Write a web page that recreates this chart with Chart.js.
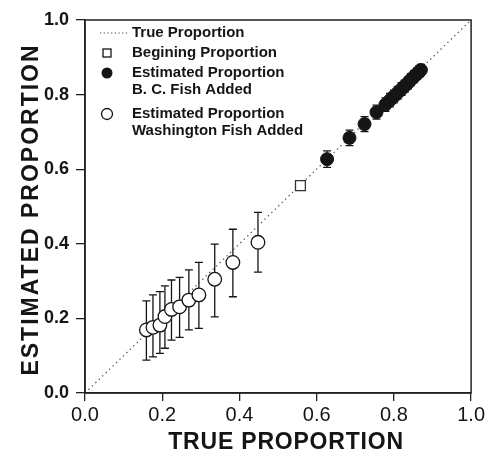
<!DOCTYPE html>
<html>
<head>
<meta charset="utf-8">
<script src="https://cdn.jsdelivr.net/npm/chart.js@4/dist/chart.umd.min.js"></script>
<style>
  body { margin: 0; background: #fff; }
  canvas { display: block; }
</style>
</head>
<body>
<canvas id="myChart" width="487" height="457"></canvas>
<script>
// values
var lineX = [0, 1]
var lineY = [0, 1]

var beginX = [0.558]
var beginY = [0.556]

var bcX = [0.627, 0.685, 0.724, 0.755, 0.778, 0.790, 0.800, 0.810, 0.820, 0.828, 0.836, 0.844, 0.852, 0.860, 0.866, 0.870]
var bcY = [0.627, 0.684, 0.721, 0.753, 0.773, 0.785, 0.795, 0.805, 0.815, 0.823, 0.831, 0.840, 0.848, 0.856, 0.862, 0.866]
var bcErr = [0.022, 0.021, 0.020, 0.019, 0.018, 0.018, 0.017, 0.017, 0.017, 0.016, 0.016, 0.016, 0.016, 0.015, 0.015, 0.015]

var waX = [0.159, 0.176, 0.194, 0.207, 0.224, 0.245, 0.269, 0.295, 0.336, 0.383, 0.448]
var waY = [0.169, 0.176, 0.182, 0.205, 0.224, 0.231, 0.249, 0.263, 0.305, 0.350, 0.404]
var waHigh = [0.247, 0.263, 0.272, 0.287, 0.303, 0.310, 0.330, 0.350, 0.399, 0.439, 0.484]
var waLow = [0.088, 0.097, 0.106, 0.120, 0.142, 0.149, 0.169, 0.173, 0.204, 0.258, 0.324]

var tickValues = [0, 0.2, 0.4, 0.6, 0.8, 1.0]
var xTitle = 'TRUE PROPORTION'
var yTitle = 'ESTIMATED PROPORTION'
var legendLabels = [['True Proportion'], ['Begining Proportion'], ['Estimated Proportion', 'B. C. Fish Added'], ['Estimated Proportion', 'Washington Fish Added']]

function pts(xs, ys) {
    var out = []
    for (var i = 0; i < xs.length; i++) out.push({x: xs[i], y: ys[i]})
    return out
}

var FONT = '"Liberation Sans", Arial, sans-serif'
var INK = '#151515'

// error bars, drawn under the markers
var errorBars = {
    id: 'errorBars',
    beforeDatasetsDraw: function(chart) {
        var ctx = chart.ctx
        var xs = chart.scales.x, ys = chart.scales.y
        ctx.save()
        ctx.strokeStyle = INK
        ctx.lineWidth = 1.3
        function bar(x, lo, hi, cap) {
            var px = xs.getPixelForValue(x)
            var a = ys.getPixelForValue(lo), b = ys.getPixelForValue(hi)
            ctx.beginPath()
            ctx.moveTo(px, a); ctx.lineTo(px, b)
            ctx.moveTo(px - cap, a); ctx.lineTo(px + cap, a)
            ctx.moveTo(px - cap, b); ctx.lineTo(px + cap, b)
            ctx.stroke()
        }
        for (var i = 0; i < bcX.length; i++) bar(bcX[i], bcY[i] - bcErr[i], bcY[i] + bcErr[i], 4)
        for (var j = 0; j < waX.length; j++) bar(waX[j], waLow[j], waHigh[j], 4)
        ctx.restore()
    }
}

// box round the plot, axis titles (letter spaced) and the legend inside the plot
var frameLegend = {
    id: 'frameLegend',
    afterDraw: function(chart) {
        var ctx = chart.ctx
        var a = chart.chartArea
        ctx.save()
        ctx.strokeStyle = '#222'
        ctx.lineWidth = 1.5
        ctx.strokeRect(a.left, a.top, a.right - a.left, a.bottom - a.top)

        // axis titles
        ctx.fillStyle = INK
        ctx.textAlign = 'center'
        ctx.textBaseline = 'middle'
        ctx.font = 'bold 23px ' + FONT
        ctx.letterSpacing = '0.8px'
        ctx.fillText(xTitle, (a.left + a.right) / 2 + 8, 443)
        ctx.save()
        ctx.translate(32, (a.top + a.bottom) / 2 + 3)
        ctx.rotate(-Math.PI / 2)
        ctx.letterSpacing = '2px'
        ctx.fillText(yTitle, 0, 0)
        ctx.restore()
        ctx.letterSpacing = '0px'

        var sx = 107, tx = 132
        var rows = [33, 53, 73, 114]
        ctx.font = 'bold 15px ' + FONT
        ctx.textAlign = 'left'
        for (var i = 0; i < legendLabels.length; i++) {
            for (var k = 0; k < legendLabels[i].length; k++) {
                ctx.fillText(legendLabels[i][k], tx, rows[i] + k * 17)
            }
        }
        // symbols
        ctx.setLineDash([1.2, 2.5])
        ctx.strokeStyle = '#444'
        ctx.lineWidth = 1.2
        ctx.beginPath(); ctx.moveTo(100, rows[0]); ctx.lineTo(128, rows[0]); ctx.stroke()
        ctx.setLineDash([])
        ctx.strokeStyle = INK
        ctx.lineWidth = 1.3
        ctx.strokeRect(sx - 4, rows[1] - 4, 8, 8)
        ctx.beginPath(); ctx.arc(sx, rows[2], 5.5, 0, Math.PI * 2); ctx.fill()
        ctx.beginPath(); ctx.arc(sx, rows[3], 5.5, 0, Math.PI * 2); ctx.stroke()
        ctx.restore()
    }
}

var ctx = document.getElementById('myChart').getContext('2d')
var chart = new Chart(ctx, {
    type: 'scatter',
    data: {
        datasets: [{
            label: 'Estimated Proportion Washington Fish Added',
            data: pts(waX, waY),
            pointStyle: 'circle',
            pointRadius: 6.8,
            backgroundColor: '#fff',
            borderColor: INK,
            borderWidth: 1.3,
            order: 1
        }, {
            label: 'Estimated Proportion B. C. Fish Added',
            data: pts(bcX, bcY),
            pointStyle: 'circle',
            pointRadius: 6.5,
            backgroundColor: INK,
            borderColor: INK,
            borderWidth: 1,
            order: 2
        }, {
            label: 'Begining Proportion',
            data: pts(beginX, beginY),
            pointStyle: 'rect',
            pointRadius: 7,
            backgroundColor: '#fff',
            borderColor: '#333',
            borderWidth: 1.3,
            order: 3
        }, {
            label: 'True Proportion',
            type: 'line',
            data: pts(lineX, lineY),
            borderColor: '#555',
            borderWidth: 1.3,
            borderDash: [1.3, 3.5],
            pointRadius: 0,
            fill: false,
            order: 4
        }]
    },
    options: {
        responsive: false,
        animation: false,
        events: [],
        layout: { padding: { top: 20, right: 15, left: 0, bottom: 0 } },
        plugins: {
            legend: { display: false },
            tooltip: { enabled: false }
        },
        scales: {
            x: {
                type: 'linear',
                min: 0, max: 1,
                afterFit: function(s) { s.height = 64 },
                afterBuildTicks: function(s) { s.ticks = tickValues.map(function(v) { return {value: v} }) },
                ticks: {
                    callback: function(v) { return v.toFixed(1) },
                    font: { family: FONT, size: 20 },
                    color: INK,
                    padding: 2,
                    maxRotation: 0
                },
                grid: { drawOnChartArea: false, tickLength: 8, color: '#222', lineWidth: 1.3 },
                border: { color: '#222', width: 1.5 }
            },
            y: {
                type: 'linear',
                min: 0, max: 1,
                afterFit: function(s) { s.width = 85 },
                afterBuildTicks: function(s) { s.ticks = tickValues.map(function(v) { return {value: v} }) },
                ticks: {
                    callback: function(v) { return v.toFixed(1) },
                    font: { family: FONT, size: 18, weight: 'bold' },
                    color: INK,
                    padding: 7
                },
                grid: { drawOnChartArea: false, tickLength: 9, color: '#222', lineWidth: 1.3 },
                border: { color: '#222', width: 1.5 }
            }
        }
    },
    plugins: [errorBars, frameLegend]
})
</script>
</body>
</html>
